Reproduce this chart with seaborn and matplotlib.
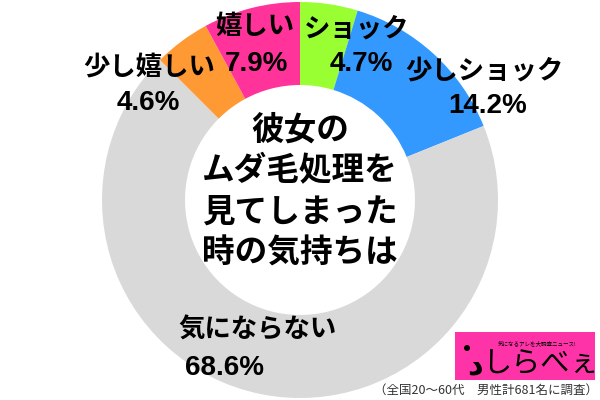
"""彼女のムダ毛処理を見てしまった時の気持ち"""
import matplotlib
matplotlib.use("Agg")
import matplotlib.pyplot as plt
import seaborn as sns
from matplotlib.patches import Rectangle, Circle

labels = ["ショック", "少しショック", "気にならない", "少し嬉しい", "嬉しい"]
values = [4.7, 14.2, 68.6, 4.6, 7.9]
colors = ["#99FF33", "#3399FF", "#D9D9D9", "#FF9933", "#FF3399"]

sns.set_theme(style="white")
plt.rcParams['font.family'] = ['Noto Sans CJK JP', 'DejaVu Sans']

fig = plt.figure(figsize=(6, 4), dpi=100)
ax = fig.add_axes([0, 0, 1, 1])

# 画素座標で配置（yは下から）
def py(y):
    return 400 - y

ax.pie(values, colors=colors, startangle=90, counterclock=False,
       center=(300, py(200)), radius=198,
       wedgeprops=dict(width=83, linewidth=0))
ax.set_xlim(0, 600)
ax.set_ylim(0, 400)
ax.set_aspect('equal')
ax.axis('off')

# ラベル
lab_pos = {
    "ショック": [(357, 29), (361, 64)],
    "少しショック": [(484, 71), (488, 106)],
    "気にならない": [(258, 330), (225, 368)],
    "少し嬉しい": [(149, 67), (148, 103)],
    "嬉しい": [(255, 26), (256, 64)],
}
for lab, v in zip(labels, values):
    (x1, y1), (x2, y2) = lab_pos[lab]
    ax.text(x1, py(y1), lab, ha='center', va='center', fontsize=19,
            fontweight='bold', color='black')
    ax.text(x2, py(y2), f"{v}%", ha='center', va='center', fontsize=20,
            fontweight='bold', color='black', family=['Liberation Sans', 'DejaVu Sans'])

# 中央の文字
center_lines = ["彼女の", "ムダ毛処理を", "見てしまった", "時の気持ちは"]
for i, line in enumerate(center_lines):
    ax.text(300, py(130 + i * 41), line, ha='center', va='center', fontsize=23.5,
            fontweight='bold', color='black')

# ロゴ
ax.add_patch(Rectangle((455, py(380)), 140, 48, facecolor='#FF33A8', edgecolor='none'))
ax.text(537, py(343), "気になるアレを大調査ニュース!", ha='center', va='center', fontsize=4, color='black')
ax.text(540, py(364), "しらべぇ", ha='center', va='center', fontsize=21, color='black')
ax.add_patch(Circle((467, py(348)), 3, facecolor='black', edgecolor='none'))
ax.text(475, py(366), "د", ha='center', va='center', fontsize=22, fontweight='bold', color='black',
        family=['DejaVu Sans'])

# 注記
ax.text(598, py(390), "（全国20～60代　男性計681名に調査）", ha='right', va='center',
        fontsize=9, color='#333333')

fig.savefig("out.png", dpi=100)
